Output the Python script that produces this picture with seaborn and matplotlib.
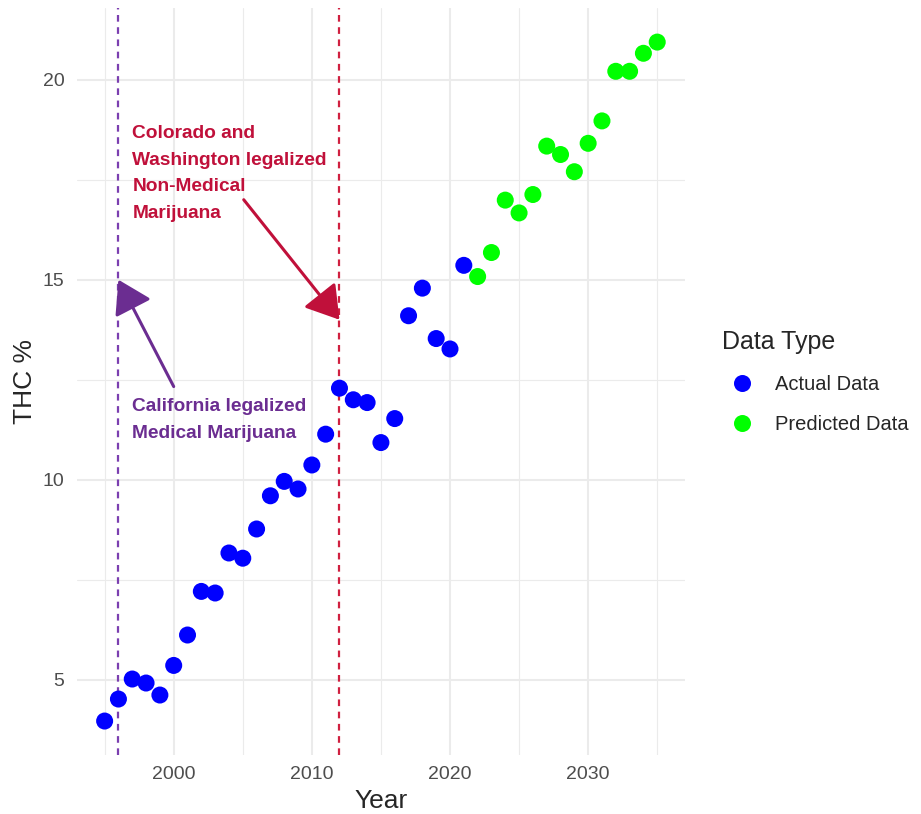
import matplotlib
matplotlib.use('Agg')
import matplotlib.pyplot as plt
import seaborn as sns
import pandas as pd

# values
years_actual = list(range(1995, 2022))
thc_actual = [3.97, 4.52, 5.02, 4.92, 4.62, 5.36, 6.12, 7.21, 7.17, 8.17,
              8.04, 8.77, 9.60, 9.96, 9.77, 10.37, 11.14, 12.29, 12.00, 11.93,
              10.93, 11.53, 14.10, 14.79, 13.53, 13.27, 15.36]
years_pred = list(range(2022, 2036))
thc_pred = [15.08, 15.68, 16.99, 16.67, 17.13, 18.34, 18.13, 17.70, 18.41,
            18.97, 20.21, 20.21, 20.66, 20.94]

events = [1996, 2012]
x_major = [2000, 2010, 2020, 2030]
x_minor = [1995, 2005, 2015, 2025, 2035]
y_major = [5, 10, 15, 20]
y_minor = [7.5, 12.5, 17.5]

df = pd.DataFrame({
    'Year': years_actual + years_pred,
    'THC': thc_actual + thc_pred,
    'Data Type': ['Actual Data'] * len(years_actual) + ['Predicted Data'] * len(years_pred),
})

sns.set_theme(style='white')
plt.rcParams['font.family'] = ['Liberation Sans', 'DejaVu Sans']

purple = '#6B2D91'
red = '#C0103A'

fig = plt.figure(figsize=(9.21, 8.14), dpi=100)
ax = fig.add_axes([0.0836, 0.0725, 0.66, 0.9175])

sns.scatterplot(data=df, x='Year', y='THC', hue='Data Type',
                palette={'Actual Data': '#0000FF', 'Predicted Data': '#00FF00'},
                s=150, edgecolor='none', ax=ax, zorder=3)

# ggplot-like expansion
xr = max(df.Year) - min(df.Year)
yr = max(df.THC) - min(df.THC)
ax.set_xlim(min(df.Year) - 0.05 * xr, max(df.Year) + 0.05 * xr)
ax.set_ylim(min(df.THC) - 0.05 * yr, max(df.THC) + 0.05 * yr)

ax.set_xticks(x_major)
ax.set_xticks(x_minor, minor=True)
ax.set_yticks(y_major)
ax.set_yticks(y_minor, minor=True)
ax.grid(which='major', color='#EBEBEB', lw=1.5, zorder=0)
ax.grid(which='minor', color='#EBEBEB', lw=0.8, zorder=0)
ax.set_axisbelow(True)
for sp in ax.spines.values():
    sp.set_visible(False)
ax.tick_params(which='both', length=0, labelsize=14, labelcolor='#4D4D4D')
ax.tick_params(axis='y', pad=9)
ax.tick_params(axis='x', pad=8)

ax.set_xlabel('Year', fontsize=19, labelpad=4)
ax.set_ylabel('THC %', fontsize=19, labelpad=4)

ax.axvline(events[0], color='#7B3FB0', lw=1.6, ls=(0, (3, 2.5)), zorder=2)
ax.axvline(events[1], color='#D02040', lw=1.6, ls=(0, (3, 2.5)), zorder=2)

ax.annotate('', xy=(1996, 15), xytext=(2000, 12.33),
            arrowprops=dict(arrowstyle='-|>,head_length=0.4,head_width=0.25',
                            mutation_scale=50, color=purple, lw=2.2,
                            shrinkA=0, shrinkB=0), zorder=4)
ax.annotate('', xy=(2012, 14), xytext=(2005.07, 17.0),
            arrowprops=dict(arrowstyle='-|>,head_length=0.4,head_width=0.25',
                            mutation_scale=50, color=red, lw=2.2,
                            shrinkA=0, shrinkB=0), zorder=4)

ax.text(1997.0, 18.86, 'Colorado and\nWashington legalized\nNon-Medical\nMarijuana',
        color=red, fontsize=13.8, fontweight='bold', ha='left', va='top',
        linespacing=1.73)
ax.text(1997.0, 12.04, 'California legalized\nMedical Marijuana',
        color=purple, fontsize=13.8, fontweight='bold', ha='left', va='top',
        linespacing=1.73)

sns.move_legend(ax, 'upper left', bbox_to_anchor=(0.773, 0.607),
                bbox_transform=fig.transFigure, frameon=False,
                title='Data Type', alignment='left', fontsize=14.5,
                title_fontsize=18, labelspacing=1.05, handletextpad=0.65,
                borderpad=0)

fig.savefig('out.png', dpi=100)
